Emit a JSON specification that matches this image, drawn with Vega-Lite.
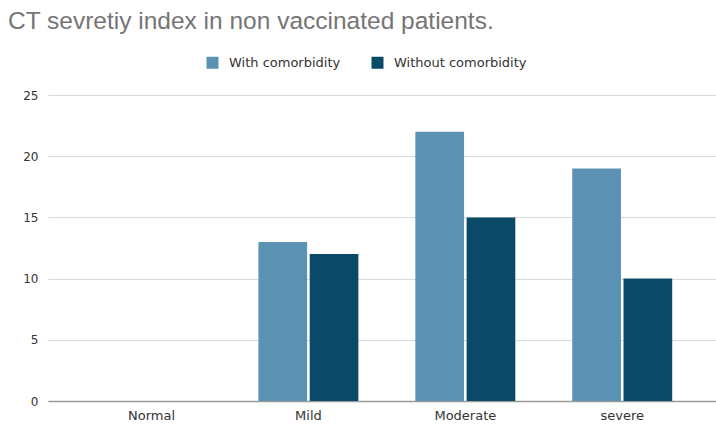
{
  "$schema": "https://vega.github.io/schema/vega-lite/v6.json",
  "width": 668,
  "height": 306,
  "autosize": "none",
  "padding": {"left": 48, "top": 95, "right": 0, "bottom": 28},
  "background": "white",
  "config": {"view": {"stroke": null}, "font": "DejaVu Sans"},
  "title": {"text": "CT sevretiy index in non vaccinated patients.", "anchor": "start", "frame": "group", "dx": -40, "offset": 22, "fontSize": 24.5, "fontWeight": "normal", "color": "#757575", "font": "Liberation Sans"},
  "data": {"values": [
    {"cat": "Normal", "series": "With comorbidity", "value": 0},
    {"cat": "Normal", "series": "Without comorbidity", "value": 0},
    {"cat": "Mild", "series": "With comorbidity", "value": 13},
    {"cat": "Mild", "series": "Without comorbidity", "value": 12},
    {"cat": "Moderate", "series": "With comorbidity", "value": 22},
    {"cat": "Moderate", "series": "Without comorbidity", "value": 15},
    {"cat": "severe", "series": "With comorbidity", "value": 19},
    {"cat": "severe", "series": "Without comorbidity", "value": 10}
  ]},
  "mark": {"type": "bar"},
  "encoding": {
    "x": {"field": "cat", "type": "nominal", "sort": ["Normal", "Mild", "Moderate", "severe"],
      "scale": {"paddingInner": 0.363, "paddingOuter": 0.31, "align": 0.55},
      "axis": {"title": null, "labelAngle": 0, "domain": true, "domainColor": "#9a9a9a", "domainWidth": 1.5, "ticks": false, "labelColor": "#333333", "labelFontSize": 13, "labelPadding": 8}},
    "xOffset": {"field": "series", "type": "nominal", "scale": {"paddingInner": 0.05}},
    "y": {"field": "value", "type": "quantitative", "scale": {"domain": [0, 25]},
      "axis": {"title": null, "values": [0, 5, 10, 15, 20, 25], "domain": false, "ticks": false, "labelColor": "#333333", "labelFontSize": 12, "labelPadding": 10, "gridColor": "#d9d9d9"}},
    "color": {"field": "series", "type": "nominal",
      "scale": {"domain": ["With comorbidity", "Without comorbidity"], "range": ["#5b91b3", "#0b4a66"]},
      "legend": {"title": null, "orient": "none", "legendX": 158, "legendY": -39, "direction": "horizontal", "symbolType": "square", "symbolSize": 144, "symbolStrokeWidth": 0, "labelFontSize": 13, "labelColor": "#333333", "labelOffset": 10, "columnPadding": 30}}
  }
}
